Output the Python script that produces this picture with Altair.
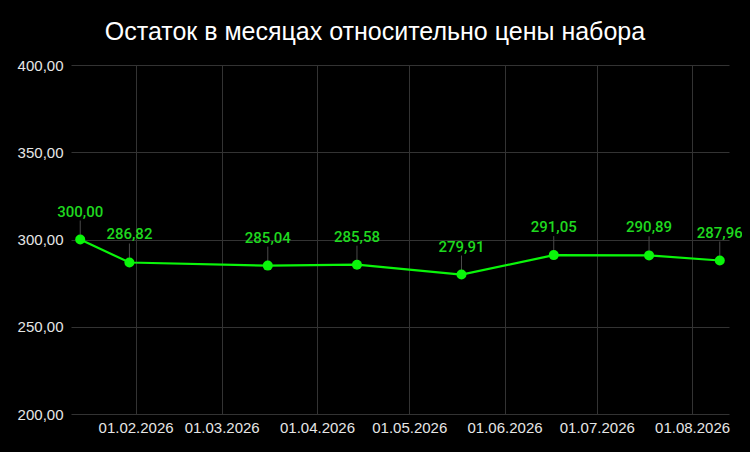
import altair as alt
import pandas as pd
from altair.utils import html as alt_html

# Values
dates = [
    "2026-01-14T00:00:00",
    "2026-01-30T00:00:00",
    "2026-03-16T00:00:00",
    "2026-04-14T00:00:00",
    "2026-05-18T00:00:00",
    "2026-06-17T00:00:00",
    "2026-07-18T00:00:00",
    "2026-08-10T00:00:00",
]
months_left = [300.00, 286.82, 285.04, 285.58, 279.91, 291.05, 290.89, 287.96]

tick_months = [2, 3, 4, 5, 6, 7, 8]
y_ticks = [200, 250, 300, 350, 400]

df = pd.DataFrame({"date": dates, "value": months_left})

GREEN = "#0af50a"
LABEL_GREEN = "#1fd81f"

# the page itself is black in the reference, not just the chart
try:
    _std = alt_html.TEMPLATES["standard"]

    class _DarkPage:
        def render(self, **kw):
            return _std.render(**kw).replace(
                "<style>", "<style>\n    body { background: #000; }", 1
            )

    alt_html.TEMPLATES["standard"] = _DarkPage()
except Exception:
    pass

x_enc = alt.X(
    "date:T",
    title=None,
    scale=alt.Scale(
        domain=[
            alt.DateTime(year=2026, month=1, date=11),
            alt.DateTime(year=2026, month=8, date=13),
        ]
    ),
    axis=alt.Axis(
        values=[alt.DateTime(year=2026, month=m, date=1) for m in tick_months],
        format="%d.%m.%Y",
        labelPadding=6,
    ),
)
y_enc = alt.Y(
    "value:Q",
    title=None,
    scale=alt.Scale(domain=[200, 400], nice=False, zero=False),
    axis=alt.Axis(
        values=y_ticks,
        labelExpr="replace(format(datum.value, '.2f'), '.', ',')",
        labelPadding=8,
    ),
)

base = alt.Chart(df).encode(x=x_enc, y=y_enc)

connectors = base.mark_rule(color="#4a4a4a", strokeWidth=1, y2Offset=-19).encode(
    y2=alt.Y2("value:Q")
)
line = base.mark_line(color=GREEN, strokeWidth=2.2)
points = base.mark_circle(size=100, color=GREEN, opacity=1)
labels = (
    base.transform_calculate(
        label="replace(format(datum.value, '.2f'), '.', ',')"
    )
    .mark_text(dy=-28, color=LABEL_GREEN, font="Roboto", fontSize=15, fontWeight=500)
    .encode(text="label:N")
)

chart = (
    alt.layer(connectors, line, points, labels)
    .properties(
        width=658,
        height=349,
        autosize=alt.AutoSizeParams(type="none"),
        padding={"left": 63, "top": 57, "right": 13, "bottom": 30},
        title=alt.TitleParams(
            "Остаток в месяцах относительно цены набора",
            font="Liberation Sans",
            fontSize=25,
            fontWeight="normal",
            color="white",
            anchor="middle",
            frame="bounds",
            offset=13,
            dx=-5,
        ),
        background="black",
    )
    .configure_view(stroke=None)
    .configure_axis(
        grid=True,
        gridColor="#333333",
        gridWidth=1,
        domain=False,
        ticks=False,
        labelColor="#e6e6e6",
        labelFont="Liberation Sans",
        labelFontSize=15,
    )
)

chart.save("out.html", embed_options={"renderer": "svg", "actions": False})
